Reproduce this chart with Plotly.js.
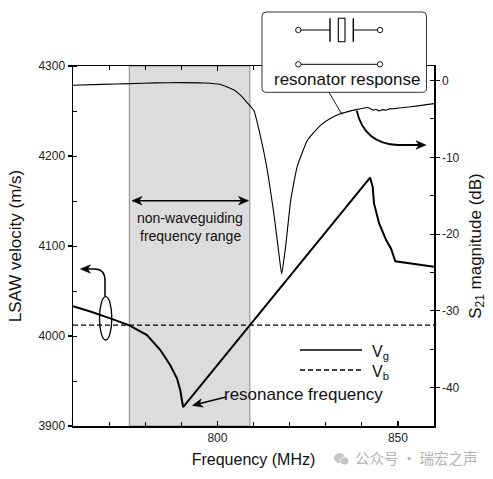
<!DOCTYPE html>
<html>
<head>
<meta charset="utf-8">
<script src="https://cdn.plot.ly/plotly-3.0.1.min.js"></script>
<style>html,body{margin:0;padding:0;background:#fff;}#chart{width:493px;height:479px;}</style>
</head>
<body>
<div id="chart"></div>
<script>
// ---- data ----
const freqVg = [760, 765, 770.3, 775.6, 780.5, 784.2, 786.9, 788.8, 789.7, 790.2, 790.5, 842.3, 843.0, 843.4, 844.8, 846.7, 848.1, 849.3, 860];
const velVg  = [4033, 4027, 4019.6, 4011.9, 4001, 3984.4, 3967.8, 3953, 3940, 3929, 3921, 4176, 4166, 4147, 4125, 4107, 4097, 4083, 4077];

const freqVb = [760, 860];
const velVb  = [4012, 4012];

const freqS21 = [760, 768, 775.8, 783, 789.7, 796.2, 800.8, 804.5, 806.4, 808.3, 810.1, 811.9, 813.8, 815.6, 817.0, 817.8, 818.9, 820.3, 822.1, 824.9, 828.6, 831.4, 834.2, 836.9, 838.8, 841.6, 842.5, 843.25, 843.9, 844.8, 845.75, 846.7, 847.6, 849.0, 851.75, 855.5, 860];
const magS21  = [-0.61, -0.5, -0.39, -0.3, -0.26, -0.31, -0.5, -1.2, -1.9, -2.9, -3.9, -7.2, -11.6, -17.2, -22.4, -25.2, -21.6, -15.6, -11.2, -7.8, -5.8, -4.9, -4.3, -3.95, -3.75, -3.51, -3.69, -3.86, -3.73, -3.95, -3.78, -3.86, -3.69, -3.65, -3.51, -3.3, -3.0];

const xTickVals = [800, 850];
const yLeftTickVals = [3900, 4000, 4100, 4200, 4300];
const yRightTickVals = [0, -10, -20, -30, -40];
const yRightTickText = ['0', '-10', '-20', '-30', '-40'];

const nonGuideRange = [775.6, 809];

// ---- geometry helpers (pixel -> paper) ----
const W = 493, H = 479, L = 73, R = 434, T = 66, B = 426;
const px = x => (x - L) / (R - L);
const py = y => (B - y) / (B - T);
const P = (x, y) => px(x).toFixed(5) + ',' + py(y).toFixed(5);

const FONT = 'Liberation Sans, Arial, Helvetica, sans-serif';

const traces = [
  {x: freqVb, y: velVb, type: 'scatter', mode: 'lines', name: 'V<sub>b</sub>',
   line: {color: '#000', width: 1.3, dash: '5px,3px'}, xaxis: 'x', yaxis: 'y', showlegend: false},
  {x: freqS21, y: magS21, type: 'scatter', mode: 'lines', name: 'S21',
   line: {color: '#000', width: 1.1, shape: 'spline', smoothing: 0.4}, xaxis: 'x', yaxis: 'y2', showlegend: false},
  {x: freqVg, y: velVg, type: 'scatter', mode: 'lines', name: 'V<sub>g</sub>',
   line: {color: '#000', width: 2}, xaxis: 'x', yaxis: 'y', showlegend: false}
];

function roundRect(x0, y0, x1, y1, r) {
  return 'M' + P(x0 + r, y0) + ' L' + P(x1 - r, y0) + ' Q' + P(x1, y0) + ' ' + P(x1, y0 + r) +
         ' L' + P(x1, y1 - r) + ' Q' + P(x1, y1) + ' ' + P(x1 - r, y1) +
         ' L' + P(x0 + r, y1) + ' Q' + P(x0, y1) + ' ' + P(x0, y1 - r) +
         ' L' + P(x0, y0 + r) + ' Q' + P(x0, y0) + ' ' + P(x0 + r, y0) + ' Z';
}
function pline(x0, y0, x1, y1, w, dash) {
  return {type: 'line', xref: 'paper', yref: 'paper', x0: px(x0), y0: py(y0), x1: px(x1), y1: py(y1),
          line: {color: '#000', width: w || 1, dash: dash || 'solid'}, layer: 'above'};
}
function pcircle(cx, cy, rx, ry, w) {
  return {type: 'circle', xref: 'paper', yref: 'paper', x0: px(cx - rx), x1: px(cx + rx), y0: py(cy + ry), y1: py(cy - ry),
          line: {color: '#000', width: w || 1}, fillcolor: 'rgba(255,255,255,1)', layer: 'above'};
}
// swept-back filled arrowhead, tip at (tx,ty), pointing from (fx,fy) towards tip
function head(tx, ty, fx, fy, len, hw) {
  len = len || 10; hw = hw || 4.2;
  const dx = tx - fx, dy = ty - fy, d = Math.hypot(dx, dy), ux = dx / d, uy = dy / d;
  const bx = tx - ux * len, by = ty - uy * len;
  const nx = tx - ux * len * 0.7, ny = ty - uy * len * 0.7;
  return {type: 'path', xref: 'paper', yref: 'paper', layer: 'above',
          path: 'M' + P(tx, ty) + ' L' + P(bx - uy * hw, by + ux * hw) + ' L' + P(nx, ny) +
                ' L' + P(bx + uy * hw, by - ux * hw) + ' Z',
          fillcolor: '#000', line: {color: '#000', width: 0.6}};
}

const shapes = [
  // non-waveguiding shaded band
  {type: 'rect', xref: 'x', yref: 'paper', x0: nonGuideRange[0], x1: nonGuideRange[1], y0: 0, y1: 1,
   fillcolor: '#dcdcdc', line: {color: '#8a8a8a', width: 1}, layer: 'below'},
  // resonator box
  {type: 'path', xref: 'paper', yref: 'paper', path: roundRect(262, 12, 426.5, 92.3, 4),
   fillcolor: '#ffffff', line: {color: '#333', width: 1}, layer: 'above'},
  // connector from box to S21 curve
  pline(329, 92.3, 342, 114.5, 0.9),
  // resonator symbol
  pline(301, 30, 330, 30, 1),
  pline(330, 18.3, 330, 41.7, 1.4),
  {type: 'rect', xref: 'paper', yref: 'paper', x0: px(338.3), x1: px(345), y0: py(41.7), y1: py(18.3),
   line: {color: '#000', width: 1.1}, fillcolor: 'rgba(0,0,0,0)', layer: 'above'},
  pline(353.3, 18.3, 353.3, 41.7, 1.4),
  pline(353.3, 30, 377.3, 30, 1),
  pline(301, 64.3, 377.3, 64.3, 1),
  pcircle(298.3, 30, 2.7, 2.7, 0.9),
  pcircle(380, 30, 2.7, 2.7, 0.9),
  pcircle(298.3, 64.3, 2.7, 2.7, 0.9),
  pcircle(380, 64.3, 2.7, 2.7, 0.9),
  // double arrow: non-waveguiding range
  pline(136, 200.7, 244, 200.7, 1.6),
  head(132, 200.7, 140, 200.7),
  head(248.5, 200.7, 240, 200.7),
  // resonance frequency pointer
  pline(226, 397, 198, 404, 1.5),
  head(192.5, 405.5, 226, 397),
  // curved pointer from S21 curve to right axis
  {type: 'path', xref: 'paper', yref: 'paper',
   path: 'M' + P(356.7, 110.7) + ' C' + P(361, 129) + ' ' + P(372, 144) + ' ' + P(398, 145) + ' L' + P(419, 145),
   line: {color: '#000', width: 1.8}, layer: 'above'},
  head(426, 145, 410, 145),
  // ellipse + curved pointer to left axis
  {type: 'circle', xref: 'paper', yref: 'paper', x0: px(99.5), x1: px(111.8), y0: py(340), y1: py(296.7),
   line: {color: '#000', width: 1.3}, layer: 'above'},
  {type: 'path', xref: 'paper', yref: 'paper',
   path: 'M' + P(105, 296.7) + ' L' + P(105, 280) + ' Q' + P(104.5, 269) + ' ' + P(95, 269) + ' L' + P(86, 269),
   line: {color: '#000', width: 1.5}, layer: 'above'},
  head(80.5, 269, 92, 269),
  // legend samples
  pline(300, 350, 362, 350, 1.6),
  pline(300, 370, 362, 370, 1.3, '5px,3px'),
  // watermark icon
  {type: 'circle', xref: 'paper', yref: 'paper', x0: px(334), x1: px(345), y0: py(463), y1: py(453),
   fillcolor: '#c4c4c4', line: {width: 0}, layer: 'above'},
  {type: 'circle', xref: 'paper', yref: 'paper', x0: px(340), x1: px(349), y0: py(465), y1: py(457),
   fillcolor: '#c4c4c4', line: {color: '#fff', width: 0.8}, layer: 'above'}
];

function label(x, y, text, size, anchor, extra) {
  return Object.assign({xref: 'paper', yref: 'paper', x: px(x), y: py(y), text: text, showarrow: false,
    xanchor: anchor || 'center', yanchor: 'middle', font: {family: FONT, size: size, color: '#111'}}, extra || {});
}

const annotations = [
  label(190, 218, 'non-waveguiding', 14),
  label(190, 235.5, 'frequency range', 14),
  label(222, 394, 'resonance frequency', 17, 'left'),
  label(347, 80, 'resonator response', 17),
  label(370, 352, 'V<sub>g</sub>', 16, 'left'),
  label(370, 372, 'V<sub>b</sub>', 16, 'left'),
  label(416, 458, '公众号 · 瑞宏之声', 14.5, 'center',
        {font: {family: 'Noto Sans CJK SC, sans-serif', size: 14.5, color: '#b4b4b4'}})
];

const axisCommon = {showgrid: false, zeroline: false, showline: true, linecolor: '#000', linewidth: 1.5,
  tickcolor: '#000', tickfont: {family: FONT, size: 12, color: '#222'}};

const layout = {
  width: W, height: H,
  margin: {l: L, r: W - R, t: T, b: H - B, pad: 0},
  paper_bgcolor: '#fff', plot_bgcolor: '#fff',
  showlegend: false,
  font: {family: FONT, color: '#111'},
  xaxis: Object.assign({}, axisCommon, {
    range: [760, 860], tickmode: 'array', tickvals: xTickVals, ticks: 'inside', ticklen: 5, tickwidth: 1.2,
    mirror: 'ticks',
    minor: {dtick: 10, tick0: 760, ticks: 'inside', ticklen: 4, tickwidth: 1, tickcolor: '#000'},
    title: {text: 'Frequency (MHz)', font: {family: FONT, size: 16, color: '#111'}, standoff: 10}
  }),
  yaxis: Object.assign({}, axisCommon, {
    range: [3900, 4300], tickmode: 'array', tickvals: yLeftTickVals, ticks: 'outside', ticklen: 4, tickwidth: 1.2,
    minor: {dtick: 50, tick0: 3900, ticks: 'inside', ticklen: 4, tickwidth: 1, tickcolor: '#000'},
    title: {text: 'LSAW velocity (m/s)', font: {family: FONT, size: 17, color: '#111'}, standoff: 12}
  }),
  yaxis2: Object.assign({}, axisCommon, {
    overlaying: 'y', side: 'right', range: [-45, 1.9],
    tickmode: 'array', tickvals: yRightTickVals, ticktext: yRightTickText, ticks: 'outside', ticklen: 4, tickwidth: 1.2,
    minor: {dtick: 5, tick0: 0, ticks: 'inside', ticklen: 4, tickwidth: 1, tickcolor: '#000'},
    title: {text: 'S<sub>21</sub> magnitude (dB)', font: {family: FONT, size: 17, color: '#111'}, standoff: 10}
  }),
  shapes: shapes,
  annotations: annotations
};

Plotly.newPlot('chart', traces, layout, {displayModeBar: false, staticPlot: true});
</script>
</body>
</html>
